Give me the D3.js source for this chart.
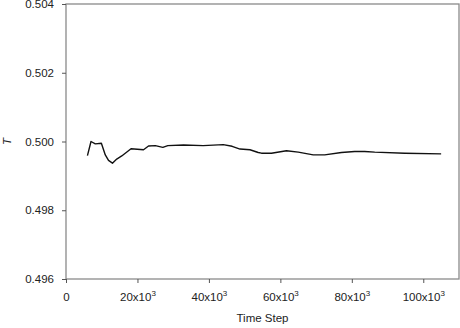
<!DOCTYPE html>
<html>
<head>
<meta charset="utf-8">
<script src="https://cdn.jsdelivr.net/npm/d3@7/dist/d3.min.js"></script>
<style>
  body { margin: 0; background: #fff; }
  svg text { font-family: "Liberation Sans", Arial, sans-serif; fill: #222; }
</style>
</head>
<body>
<div id="chart"></div>
<script>
'use strict';

// time step values
const steps = [6000, 7000, 8200, 9900, 11000, 11900, 13000, 14200, 15600, 18200,
    21700, 23100, 25000, 27100, 28500, 32900, 38400, 44000, 46500, 48700, 51500,
    53800, 54700, 57500, 61700, 65000, 69200, 72400, 77100, 80800, 83600, 86400,
    94800, 105000];
const temps = [0.49959, 0.50000, 0.49993, 0.49995, 0.49961, 0.49945, 0.49937, 0.49949,
    0.49958, 0.49979, 0.49976, 0.49987, 0.49988, 0.49983, 0.49988, 0.49990, 0.49988,
    0.49991, 0.49986, 0.49978, 0.49976, 0.49968, 0.49966, 0.49966, 0.49973, 0.49969,
    0.49961, 0.49961, 0.49968, 0.49971, 0.49971, 0.49969, 0.49966, 0.49964];
const xTicks = [0, 20000, 40000, 60000, 80000, 100000];
const yTicks = [0.496, 0.498, 0.500, 0.502, 0.504];

const width = 460, height = 328;
const mLeft = 66, mRight = 459, mTop = 4, mBottom = 279;

const svg = d3.select('#chart').append('svg')
    .attr('width', width)
    .attr('height', height);

const x = d3.scaleLinear().domain([0, 110000]).range([mLeft, mRight]);
const y = d3.scaleLinear().domain([0.496, 0.504]).range([mBottom, mTop]);

// frame
svg.append('rect')
    .attr('x', mLeft).attr('y', mTop)
    .attr('width', mRight - mLeft).attr('height', mBottom - mTop)
    .attr('fill', 'none').attr('stroke', '#8a8a8a').attr('stroke-width', 1.3);

const xAxis = svg.append('g')
    .attr('transform', `translate(0,${mBottom})`)
    .call(d3.axisBottom(x).tickValues(xTicks).tickSize(4).tickPadding(10).tickFormat(() => ''));
xAxis.select('.domain').remove();
xAxis.selectAll('line').attr('stroke', '#555');
xAxis.selectAll('.tick text').each(function (d) {
    const t = d3.select(this).attr('font-size', 11.5);
    if (d === 0) { t.text('0'); return; }
    t.text(d / 1000 + 'x10');
    t.append('tspan').attr('dy', -5).attr('font-size', 8).text('3');
});

const yAxis = svg.append('g')
    .attr('transform', `translate(${mLeft},0)`)
    .call(d3.axisLeft(y).tickValues(yTicks).tickSize(4).tickPadding(8).tickFormat(d3.format('.3f')));
yAxis.select('.domain').remove();
yAxis.selectAll('line').attr('stroke', '#555');
yAxis.selectAll('text').attr('font-size', 11.5);

// series
const pts = steps.map((s, i) => [s, temps[i]]);
svg.append('path')
    .datum(pts)
    .attr('d', d3.line().x(d => x(d[0])).y(d => y(d[1])))
    .attr('fill', 'none')
    .attr('stroke', '#111')
    .attr('stroke-width', 1.4)
    .attr('stroke-linejoin', 'round');

svg.append('text')
    .attr('x', (mLeft + mRight) / 2).attr('y', 322)
    .attr('text-anchor', 'middle')
    .attr('font-size', 11.5)
    .text('Time Step');

svg.append('text')
    .attr('transform', `translate(11,${y(0.5)}) rotate(-90)`)
    .attr('text-anchor', 'middle')
    .attr('font-size', 11.5)
    .attr('font-style', 'italic')
    .text('T');
</script>
</body>
</html>
